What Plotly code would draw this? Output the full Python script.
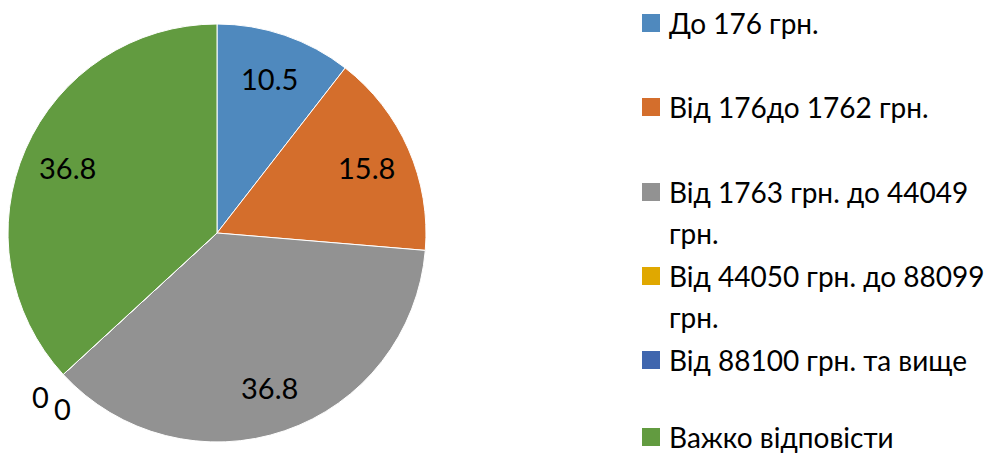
import math
import textwrap
import plotly.graph_objects as go

# ---- data ----
categories = [
    "До 176 грн.",
    "Від 176до 1762 грн.",
    "Від 1763 грн. до 44049 грн.",
    "Від 44050 грн. до 88099 грн.",
    "Від 88100 грн. та вище",
    "Важко відповісти",
]
values = [10.5, 15.8, 36.8, 0, 0, 36.8]
colors = ["#4F89BE", "#D46E2C", "#929292", "#E0A800", "#3F66AE", "#629B40"]

# ---- layout constants ----
W, H = 993, 454
CX, CY, R = 217, 233, 209          # pie centre / radius in px
FONT = "Lato, Carlito, 'Open Sans', sans-serif"

fig = go.Figure()
fig.add_trace(go.Pie(
    labels=categories,
    values=values,
    sort=False,
    direction="clockwise",
    rotation=0,
    textinfo="none",
    hoverinfo="label+value",
    showlegend=False,
    marker=dict(colors=colors, line=dict(color="white", width=1)),
    domain=dict(x=[(CX - R) / W, (CX + R) / W],
                y=[(H - CY - R) / H, (H - CY + R) / H]),
))

def px_to_paper(px, py):
    return px / W, 1 - py / H

annotations = []
shapes = []

# data labels
total = sum(values)
cum = 0.0
zero_offsets = [(-7, 8), (15, 20)]
zi = 0
for v in values:
    a = 2 * math.pi * (cum + v / 2) / total
    if v > 0:
        r = 0.78 * R
        px, py = CX + r * math.sin(a), CY - r * math.cos(a)
    else:
        r = 1.1 * R
        px, py = CX + r * math.sin(a), CY - r * math.cos(a)
        dx, dy = zero_offsets[zi % len(zero_offsets)]
        zi += 1
        px += dx
        py += dy
    x, y = px_to_paper(px, py)
    annotations.append(dict(
        x=x, y=y, xref="paper", yref="paper", showarrow=False,
        text=f"{v:g}", xanchor="center", yanchor="middle",
        font=dict(family=FONT, size=29, color="black"),
    ))
    cum += v

# custom legend
legend_y = [23, 107, 192, 276, 360, 437]
line_gap = 41
sq = 18
sq_x = 642
text_x = 667
for cat, col, ly in zip(categories, colors, legend_y):
    shapes.append(dict(
        type="rect", xref="paper", yref="paper",
        x0=sq_x / W, x1=(sq_x + sq) / W,
        y0=1 - (ly + sq / 2) / H, y1=1 - (ly - sq / 2) / H,
        fillcolor=col, line=dict(width=0),
    ))
    for i, line in enumerate(textwrap.wrap(cat, 23)):
        x, y = px_to_paper(text_x, ly + i * line_gap)
        annotations.append(dict(
            x=x, y=y, xref="paper", yref="paper", showarrow=False,
            text=line, xanchor="left", yanchor="middle",
            font=dict(family=FONT, size=28, color="black"),
        ))

fig.update_layout(
    width=W, height=H,
    margin=dict(l=0, r=0, t=0, b=0),
    paper_bgcolor="white",
    plot_bgcolor="white",
    annotations=annotations,
    shapes=shapes,
)

fig.write_html(
    "out.html",
    config={"displayModeBar": False},
    post_script="document.body.style.margin='0';document.body.style.overflow='hidden';",
)
